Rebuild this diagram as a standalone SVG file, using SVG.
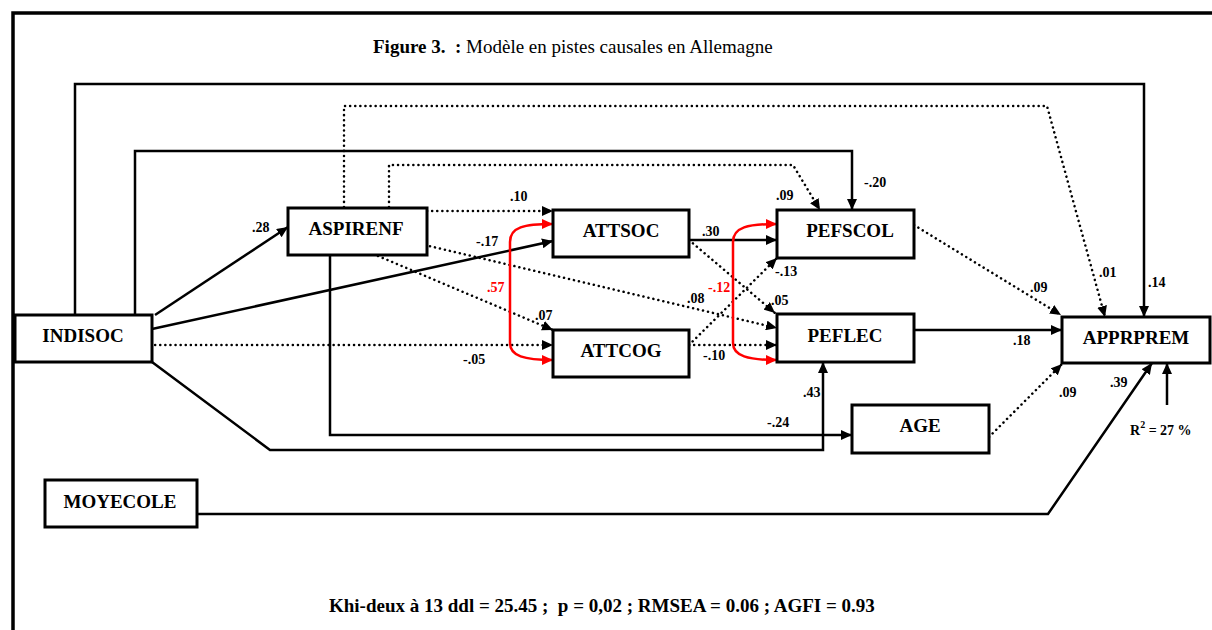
<svg xmlns="http://www.w3.org/2000/svg" width="1212" height="630" viewBox="0 0 1212 630">
<style>
.box{fill:#fff;stroke:#000;stroke-width:3}
.nt{font-family:"Liberation Serif","Times New Roman",serif;font-weight:bold;font-size:19px;text-anchor:middle;fill:#000}
.solid{fill:none;stroke:#000;stroke-width:2.5}
.dot{fill:none;stroke:#000;stroke-width:2.5;stroke-dasharray:0.1 5;stroke-linecap:round}
.red{fill:none;stroke:#f00;stroke-width:2.5}
.lbl{font-family:"Liberation Serif","Times New Roman",serif;font-weight:bold;font-size:14px;fill:#000}
.rl{fill:#f00}
.title{font-family:"Liberation Serif","Times New Roman",serif;font-size:19px;fill:#000}
</style>
<defs>
<marker id="ah" markerUnits="userSpaceOnUse" markerWidth="12" markerHeight="10" refX="11" refY="5" orient="auto"><path d="M0,0 L11,5 L0,10 z" fill="#000"/></marker>
<marker id="ahr" markerUnits="userSpaceOnUse" markerWidth="12" markerHeight="10" refX="11" refY="5" orient="auto-start-reverse"><path d="M0,0 L11,5 L0,10 z" fill="#f00"/></marker>
</defs>
<rect width="1212" height="630" fill="#fff"/>
<path d="M13,630 V13 H1212" fill="none" stroke="#000" stroke-width="3.5"/>
<text class="title" x="373" y="53" xml:space="preserve"><tspan font-weight="bold">Figure 3.  :</tspan> Modèle en pistes causales en Allemagne</text>
<g id="connectors">
<path class="solid" d="M75,315 V84 H1144 V317" marker-end="url(#ah)"/>
<path class="solid" d="M135,315 V151 H852 V210" marker-end="url(#ah)"/>
<path class="dot" d="M344,207 V106 H1047 L1105,317" marker-end="url(#ah)"/>
<path class="dot" d="M389,207 V165 H793 L820,210" marker-end="url(#ah)"/>
<path class="solid" d="M155,315 L288,227" marker-end="url(#ah)"/>
<path class="solid" d="M152,329 L553,241" marker-end="url(#ah)"/>
<path class="dot" d="M150,345 L553,345" marker-end="url(#ah)"/>
<path class="solid" d="M152,362 L270,450 H823 V362" marker-end="url(#ah)"/>
<path class="solid" d="M330,255 V435 H852" marker-end="url(#ah)"/>
<path class="dot" d="M427,211 H553" marker-end="url(#ah)"/>
<path class="dot" d="M425,245 L777,328" marker-end="url(#ah)"/>
<path class="dot" d="M378,256 L553,330" marker-end="url(#ah)"/>
<path class="red" d="M553,224 C524,224 510,227 510,242 L510,343 C510,356 524,360 553,360" marker-start="url(#ahr)" marker-end="url(#ahr)"/>
<path class="solid" d="M689,240 H777" marker-end="url(#ah)"/>
<path class="dot" d="M689,240 L775,313" marker-end="url(#ah)"/>
<path class="dot" d="M689,345 L777,258" marker-end="url(#ah)"/>
<path class="dot" d="M689,345 H777" marker-end="url(#ah)"/>
<path class="red" d="M777,224 C748,224 733,227 733,242 L733,343 C733,356 748,360 777,360" marker-start="url(#ahr)" marker-end="url(#ahr)"/>
<path class="dot" d="M914,225 L1061,315" marker-end="url(#ah)"/>
<path class="solid" d="M914,330 H1062" marker-end="url(#ah)"/>
<path class="dot" d="M989,437 L1062,364" marker-end="url(#ah)"/>
<path class="solid" d="M197,514 H1048 L1152,363" marker-end="url(#ah)"/>
<path class="solid" d="M1167,405 V363" marker-end="url(#ah)"/>
</g>
<g id="labels">
<text class="lbl" x="252" y="232">.28</text>
<text class="lbl" x="476" y="246">-.17</text>
<text class="lbl" x="510" y="201">.10</text>
<text class="lbl" x="776" y="200">.09</text>
<text class="lbl" x="864" y="187">-.20</text>
<text class="lbl" x="1099" y="277">.01</text>
<text class="lbl" x="1148" y="287">.14</text>
<text class="lbl" x="702" y="236">.30</text>
<text class="lbl rl" x="487" y="292">.57</text>
<text class="lbl rl" x="708" y="292">-.12</text>
<text class="lbl" x="535" y="320">.07</text>
<text class="lbl" x="687" y="303">.08</text>
<text class="lbl" x="771" y="305">.05</text>
<text class="lbl" x="775" y="276">-.13</text>
<text class="lbl" x="463" y="364">-.05</text>
<text class="lbl" x="703" y="360">-.10</text>
<text class="lbl" x="1030" y="292">.09</text>
<text class="lbl" x="1013" y="345">.18</text>
<text class="lbl" x="803" y="397">.43</text>
<text class="lbl" x="767" y="427">-.24</text>
<text class="lbl" x="1059" y="397">.09</text>
<text class="lbl" x="1110" y="387">.39</text>
<text class="lbl" x="1130" y="435" font-size="17">R<tspan font-size="10" dy="-7">2</tspan><tspan dy="7"> = 27 %</tspan></text>
</g>
<g id="INDISOC"><rect class="box" x="15" y="315" width="137" height="47"/><text class="nt" x="83" y="342">INDISOC</text></g>
<g id="ASPIRENF"><rect class="box" x="288" y="208" width="139" height="47"/><text class="nt" x="356" y="235">ASPIRENF</text></g>
<g id="ATTSOC"><rect class="box" x="553" y="210" width="136" height="47"/><text class="nt" x="621" y="237">ATTSOC</text></g>
<g id="ATTCOG"><rect class="box" x="553" y="330" width="136" height="47"/><text class="nt" x="621" y="357">ATTCOG</text></g>
<g id="PEFSCOL"><rect class="box" x="777" y="210" width="137" height="48"/><text class="nt" x="850" y="237">PEFSCOL</text></g>
<g id="PEFLEC"><rect class="box" x="777" y="314" width="137" height="48"/><text class="nt" x="845" y="342">PEFLEC</text></g>
<g id="APPRPREM"><rect class="box" x="1062" y="317" width="148" height="46"/><text class="nt" x="1136" y="344">APPRPREM</text></g>
<g id="AGE"><rect class="box" x="852" y="405" width="137" height="48"/><text class="nt" x="920" y="432">AGE</text></g>
<g id="MOYECOLE"><rect class="box" x="45" y="480" width="152" height="47"/><text class="nt" x="120" y="508">MOYECOLE</text></g>
<text class="title" x="329" y="612" font-weight="bold" xml:space="preserve">Khi-deux à 13 ddl = 25.45 ;  p = 0,02 ; RMSEA = 0.06 ; AGFI = 0.93</text>
</svg>
